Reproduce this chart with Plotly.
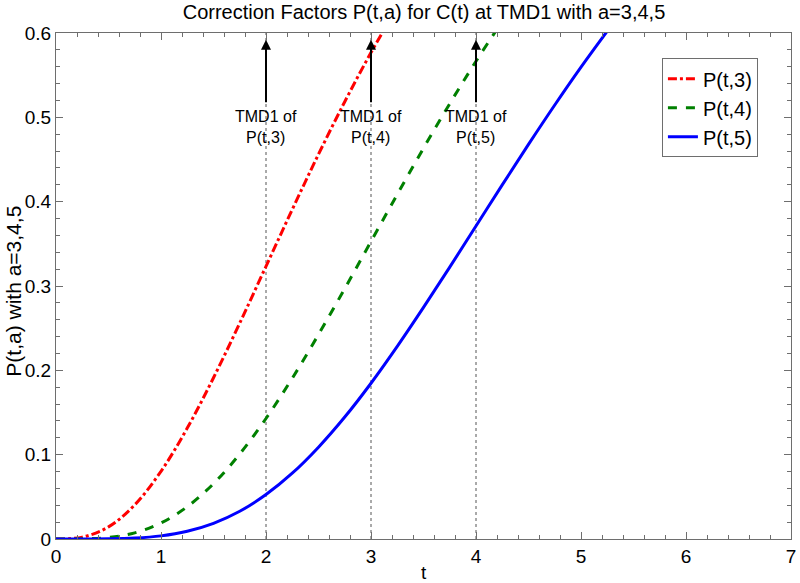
import plotly.graph_objects as go

# values
t = [0, 0.25, 0.5, 0.75, 1.0, 1.25, 1.5, 1.75, 2.0, 2.25, 2.5, 2.75,
     3.0, 3.25, 3.5, 3.75, 4.0, 4.25, 4.5, 4.75, 5.0, 5.25]
p3 = [0, 0.0022, 0.0144, 0.0405, 0.0803, 0.1315, 0.1912, 0.2560, 0.3233,
      0.3907, 0.4562, 0.5185, 0.5768, 0.6304]
p4 = [0, 0.0002, 0.0018, 0.0073, 0.0190, 0.0383, 0.0656, 0.1008, 0.1429,
      0.1906, 0.2425, 0.2969, 0.3528, 0.4086, 0.4634, 0.5162, 0.5665, 0.6138]
p5 = [0, 0.0001, 0.0002, 0.0011, 0.0037, 0.0092, 0.0186, 0.0329, 0.0527,
      0.0780, 0.1089, 0.1446, 0.1847, 0.2284, 0.2746, 0.3224, 0.3711, 0.4199,
      0.4679, 0.5146, 0.5595, 0.6022]

series_names = ["P(t,3)", "P(t,4)", "P(t,5)"]
tmd1 = [2, 3, 4]
tmd1_labels = ["TMD1 of<br>P(t,3)", "TMD1 of<br>P(t,4)", "TMD1 of<br>P(t,5)"]
x_ticks = [0, 1, 2, 3, 4, 5, 6, 7]
y_ticks = [0, 0.1, 0.2, 0.3, 0.4, 0.5, 0.6]

FONT = "Liberation Sans, Arial, sans-serif"
AXIS_COLOR = "#6e6e6e"

fig = go.Figure()

styles = [("#ff0000", "dashdot"), ("#008000", "dash"), ("#0000ff", "solid")]
for name, ys, (color, dash) in zip(series_names, [p3, p4, p5], styles):
    fig.add_trace(go.Scatter(
        x=t[:len(ys)], y=ys, mode="lines", name=name,
        line=dict(color=color, width=3, dash=dash, shape="spline"),
    ))

# dotted guide lines and arrow annotations at the TMD1 points
for x0, label in zip(tmd1, tmd1_labels):
    fig.add_shape(type="line", xref="x", yref="y", x0=x0, x1=x0, y0=0, y1=0.6,
                  line=dict(color="#555555", width=1, dash="dot"), layer="below")
    fig.add_annotation(x=x0, y=0.592, ax=x0, ay=0.516, xref="x", yref="y",
                       axref="x", ayref="y", text="", showarrow=True,
                       arrowhead=2, arrowsize=1, arrowwidth=2, arrowcolor="black",
                       standoff=0, startstandoff=0)
    fig.add_annotation(x=x0, y=0.514, xref="x", yref="y", text=label,
                       showarrow=False, yanchor="top", xanchor="center",
                       font=dict(family=FONT, size=16, color="black"))

# axis titles placed by hand
fig.add_annotation(x=0.5, y=-0.067, xref="paper", yref="paper", text="t",
                   showarrow=False, xanchor="center", yanchor="middle",
                   font=dict(family=FONT, size=19, color="black"))
fig.add_annotation(x=-0.059, y=0.49, xref="paper", yref="paper",
                   text="P(t,a) with a=3,4,5", textangle=-90,
                   showarrow=False, xanchor="center", yanchor="middle",
                   font=dict(family=FONT, size=21, color="black"))

axis_common = dict(
    showline=True, linecolor=AXIS_COLOR, linewidth=1, mirror="ticks",
    ticks="inside", ticklen=7, tickcolor=AXIS_COLOR, showgrid=False,
    zeroline=False, tickfont=dict(family=FONT, size=19, color="black"),
    automargin=False, ticklabeloverflow="allow",
)

fig.update_xaxes(range=[0, 7], tickmode="array", tickvals=x_ticks,
                 minor=dict(ticks="inside", ticklen=4, dtick=0.2, tickcolor=AXIS_COLOR),
                 **axis_common)
fig.update_yaxes(range=[0, 0.6], tickmode="array", tickvals=y_ticks,
                 minor=dict(ticks="inside", ticklen=4, dtick=0.02, tickcolor=AXIS_COLOR),
                 **axis_common)

fig.update_layout(
    width=800, height=583,
    margin=dict(l=56, r=9, t=33, b=44),
    paper_bgcolor="white", plot_bgcolor="white",
    title=dict(text="Correction Factors P(t,a) for C(t) at TMD1 with a=3,4,5",
               x=0.53, xanchor="center", y=0.992, yanchor="top",
               font=dict(family=FONT, size=20, color="black")),
    legend=dict(x=0.955, xanchor="right", y=0.95, yanchor="top",
                bgcolor="white", bordercolor=AXIS_COLOR, borderwidth=1,
                font=dict(family=FONT, size=20, color="black"),
                itemwidth=30, tracegroupgap=0),
    showlegend=True,
)

# drop the default page margin so the figure sits at the window's top-left
fig.write_html("out.html", config={"displayModeBar": False},
               post_script="document.body.style.margin='0';")
